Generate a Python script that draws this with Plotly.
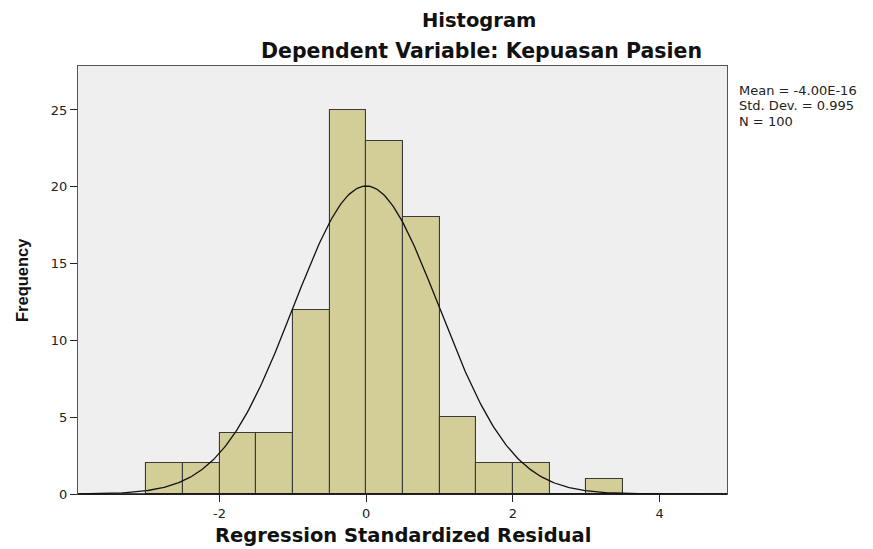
import numpy as np
import plotly.graph_objects as go

bin_left = [-3.0, -2.5, -2.0, -1.5, -1.0, -0.5, 0.0, 0.5, 1.0, 1.5, 2.0, 2.5, 3.0]
counts = [2, 2, 4, 4, 12, 25, 23, 18, 5, 2, 2, 0, 1]
bin_width = 0.5
mean_val = -4.00e-16
std_val = 0.995
n_val = 100
x_ticks = [-2, 0, 2, 4]
x_tick_text = ["-2", "0", "2", "4"]
y_ticks = [0, 5, 10, 15, 20, 25]
stats_lines = ["Mean = -4.00E-16", f"Std. Dev. = {std_val}", f"N = {n_val}"]

centers = [b + bin_width / 2 for b in bin_left]

# fitted normal curve from the stated mean / std / N
xc = np.linspace(-3.93, 4.92, 400)
yc = n_val * bin_width * np.exp(-0.5 * ((xc - mean_val) / std_val) ** 2) / (std_val * np.sqrt(2 * np.pi))

# page geometry (browser body has an 8px default margin)
OFF = 8
PAGE_W, PAGE_H = 873, 549
PL, PR, PT, PB = 78, 727, 66, 494
pw, ph = PR - PL, PB - PT


def px(x):
    return (x - PL) / pw


def py(y):
    return (PB - y) / ph


fig = go.Figure()
fig.add_trace(go.Bar(x=centers, y=counts, width=bin_width,
                     marker=dict(color="#d3ce97", line=dict(color="#3a3a3a", width=1.1)),
                     showlegend=False))
fig.add_trace(go.Scatter(x=xc, y=yc, mode="lines", line=dict(color="#111111", width=1.3),
                         showlegend=False))

fig.update_layout(
    width=PAGE_W - OFF, height=PAGE_H - OFF,
    margin=dict(l=PL - OFF, r=PAGE_W - PR, t=PT - OFF, b=PAGE_H - PB, autoexpand=False),
    paper_bgcolor="white", plot_bgcolor="#efefef",
    bargap=0,
    font=dict(family="DejaVu Sans, sans-serif", color="#222"),
    xaxis=dict(range=[-3.93, 4.92], tickvals=x_ticks, ticktext=x_tick_text,
               ticks="outside", ticklen=7,
               tickcolor="#222", showgrid=False, zeroline=False, automargin=False,
               showline=True, linecolor="#555", mirror=True,
               tickfont=dict(size=13, color="#222")),
    yaxis=dict(range=[0, 27.86], tickvals=y_ticks, ticks="outside", ticklen=7,
               tickcolor="#222", showgrid=False, zeroline=False, automargin=False,
               showline=True, linecolor="#555", mirror=True,
               tickfont=dict(size=13, color="#222")),
)

# darker baseline along the x axis
fig.add_shape(type="line", xref="paper", yref="paper", x0=0, x1=1, y0=0, y1=0,
              line=dict(color="#111", width=1.5))

fig.add_annotation(text="<b>Histogram</b>", xref="paper", yref="paper",
                   x=px(479), y=py(21), showarrow=False,
                   font=dict(size=19.5, color="#111"), xanchor="center", yanchor="middle")
fig.add_annotation(text="<b>Dependent Variable: Kepuasan Pasien</b>", xref="paper", yref="paper",
                   x=px(481), y=py(51), showarrow=False,
                   font=dict(size=20.5, color="#111"), xanchor="center", yanchor="middle")
fig.add_annotation(text="<b>Regression Standardized Residual</b>", xref="paper", yref="paper",
                   x=px(403), y=py(535), showarrow=False,
                   font=dict(size=19.5, color="#111"), xanchor="center", yanchor="middle")
fig.add_annotation(text="<b>Frequency</b>", xref="paper", yref="paper",
                   x=px(22), y=py(280), showarrow=False, textangle=-90,
                   font=dict(size=16.5, color="#111", family="Liberation Sans, Arial, sans-serif"),
                   xanchor="center", yanchor="middle")
for i, line in enumerate(stats_lines):
    fig.add_annotation(text=line, xref="paper", yref="paper",
                       x=px(737), y=py(90 + 15.5 * i), showarrow=False,
                       xanchor="left", yanchor="middle",
                       font=dict(size=13, color="#222"))

fig.write_html("out.html")
